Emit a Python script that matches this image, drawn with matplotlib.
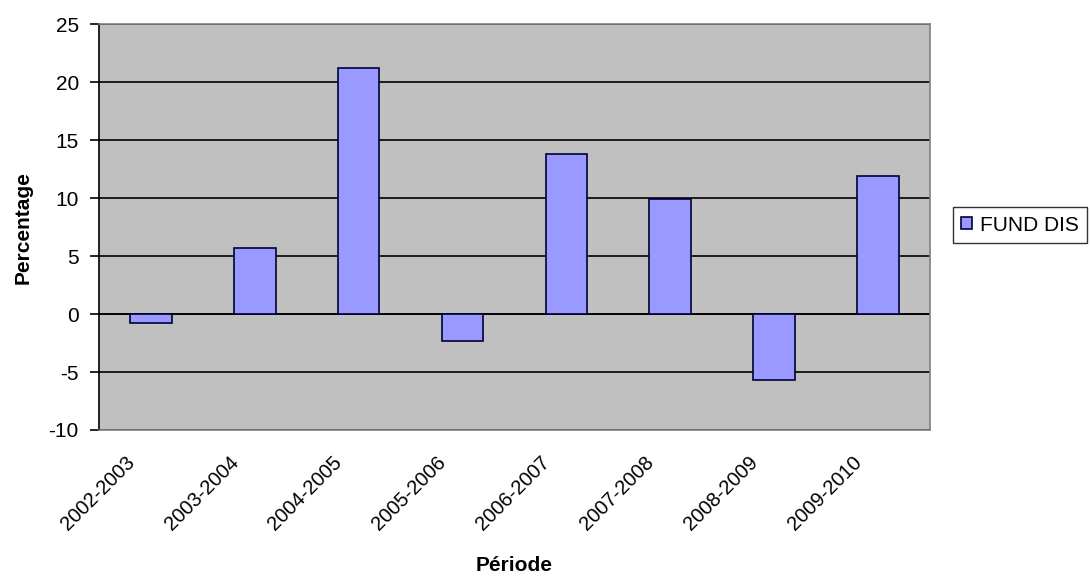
import matplotlib.pyplot as plt
import matplotlib.transforms as mtransforms
import numpy as np

periods = ['2002-2003', '2003-2004', '2004-2005', '2005-2006',
           '2006-2007', '2007-2008', '2008-2009', '2009-2010']
fund_dis = [-0.8, 5.7, 21.2, -2.3, 13.8, 9.9, -5.7, 11.9]
y_ticks = [-10, -5, 0, 5, 10, 15, 20, 25]


def main():
    plt.rcParams['font.family'] = ['Liberation Sans', 'DejaVu Sans']

    fig = plt.figure(figsize=(10.9, 5.76), dpi=100)
    ax = fig.add_axes([0.0908, 0.2535, 0.7622, 0.7045])
    ax.set_facecolor('#C0C0C0')

    x = np.arange(len(periods))
    ax.bar(x, fund_dis, width=0.4, color='#9999FF', edgecolor='#000033',
           linewidth=1.2, label='FUND DIS', zorder=3)

    ax.set_xlim(-0.5, len(periods) - 0.5)
    ax.set_ylim(-10, 25)
    ax.set_yticks(y_ticks)
    ax.set_yticklabels([str(t) for t in y_ticks], fontsize=15)
    ax.yaxis.grid(True, color='black', linewidth=1.2, zorder=1)
    ax.axhline(0, color='black', linewidth=1.2, zorder=2)

    ax.set_xticks(x)
    ax.set_xticklabels(periods, rotation=45, ha='right', va='top',
                       rotation_mode='anchor', fontsize=14.5)
    ax.tick_params(axis='x', length=0, pad=16)
    ax.tick_params(axis='y', length=6.5, width=1.2, direction='out', pad=8)

    # shift the slanted period labels to the left of each bar
    shift = mtransforms.ScaledTranslation(-26 / 100, 0, fig.dpi_scale_trans)
    for lbl in ax.get_xticklabels():
        lbl.set_transform(lbl.get_transform() + shift)

    for side in ['top', 'right', 'bottom']:
        ax.spines[side].set_color('#808080')
        ax.spines[side].set_linewidth(1.2)
    ax.spines['left'].set_color('black')
    ax.spines['left'].set_linewidth(1.2)

    ax.set_ylabel('Percentage', fontsize=15, fontweight='bold')
    ax.yaxis.set_label_coords(-0.08, 0.5)
    ax.set_xlabel('Période', fontsize=15, fontweight='bold')
    ax.xaxis.set_label_coords(0.5, -0.31)

    leg = ax.legend(loc='upper left', bbox_to_anchor=(1.028, 0.549),
                    borderaxespad=0, fontsize=15, frameon=True, fancybox=False,
                    handlelength=0.5, handleheight=0.5, handletextpad=0.4,
                    borderpad=0.4)
    leg.get_frame().set_edgecolor('black')
    leg.get_frame().set_linewidth(1.0)

    fig.savefig('out.png', dpi=100, facecolor='white')


if __name__ == '__main__':
    main()
